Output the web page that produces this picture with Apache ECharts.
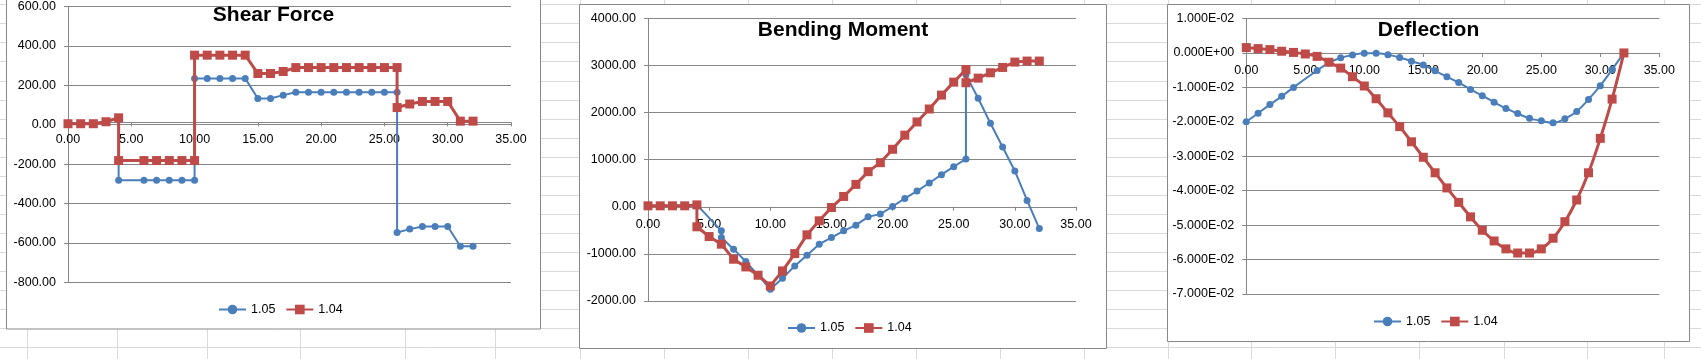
<!DOCTYPE html>
<html><head><meta charset="utf-8">
<script src="https://cdn.jsdelivr.net/npm/echarts@6/dist/echarts.min.js"></script>
<style>html,body{margin:0;padding:0;background:#fff;overflow:hidden}#c{width:1701px;height:359px}</style>
</head><body><div id="c"></div>
<script>
// ---------- data ----------
const seriesNames = ['1.05', '1.04'];
const chartTitles = ['Shear Force', 'Bending Moment', 'Deflection'];

// Shear Force
const sfX105 = [0,1,2,3,4,4,6,7,8,9,10,10,11,12,13,14,15,16,17,18,19,20,21,22,23,24,25,26,26,27,28,29,30,31,32];
const sfY105 = [5,5,5,15,35,-282,-282,-282,-282,-282,-282,235,235,235,235,235,133,133,150,165,165,165,165,165,165,165,165,165,-547,-530,-517,-517,-517,-617,-617];
const sfX104 = [0,1,2,3,4,4,6,7,8,9,10,10,11,12,13,14,15,16,17,18,19,20,21,22,23,24,25,26,26,27,28,29,30,31,32];
const sfY104 = [5,5,5,15,35,-182,-182,-182,-182,-182,-182,353,353,353,353,353,260,260,270,290,290,290,290,290,290,290,290,290,87,105,118,118,118,18,18];

// Bending Moment
const bmX105 = [0,1,2,3,4,6,6,7,8,9,10,11,12,13,14,15,16,17,18,19,20,21,22,23,24,25,26,26,27,28,29,30,31,32];
const bmY105 = [20,20,20,20,40,-511,-653,-900,-1163,-1450,-1750,-1517,-1255,-1028,-794,-653,-511,-390,-213,-156,6,177,333,504,681,851,1014,2800,2304,1772,1270,760,134,-462];
const bmX104 = [0,1,2,3,4,4,5,6,7,8,9,10,11,12,13,14,15,16,17,18,19,20,21,22,23,24,25,26,26,27,28,29,30,31,32];
const bmY104 = [20,20,20,20,40,-425,-632,-794,-1113,-1277,-1453,-1680,-1362,-994,-596,-298,-15,219,475,745,936,1220,1520,1800,2075,2370,2645,2912,2632,2730,2844,2957,3071,3092,3092];

// Deflection
const dfX105 = [0,1,2,3,4,6,7,8,9,10,11,12,13,14,15,16,17,18,19,20,21,22,23,24,25,26,27,28,29,30,31,32];
const dfY105 = [-0.0200,-0.0175,-0.0150,-0.0126,-0.0100,-0.0051,-0.0029,-0.0014,-0.0006,-0.0001,-0.0001,-0.0005,-0.0013,-0.0024,-0.0035,-0.0052,-0.0069,-0.0086,-0.0106,-0.0124,-0.0143,-0.0161,-0.0176,-0.0190,-0.0197,-0.0203,-0.0191,-0.0170,-0.0135,-0.0095,-0.0048,0];
const dfX104 = [0,1,2,3,4,5,6,7,8,9,10,11,12,13,14,15,16,17,18,19,20,21,22,23,24,25,26,27,28,29,30,31,32];
const dfY104 = [0.00155,0.00126,0.00097,0.0005,0.00015,-0.0003,-0.0010,-0.0027,-0.0044,-0.0069,-0.0096,-0.0133,-0.0174,-0.0214,-0.0258,-0.0303,-0.0348,-0.0392,-0.0434,-0.0476,-0.0515,-0.0546,-0.0569,-0.0581,-0.0581,-0.0569,-0.0538,-0.0490,-0.0427,-0.0348,-0.0248,-0.0134,0];

// axis ranges
const xRange = [0, 35, 5];
const sfRange = [-800, 600, 200];
const bmRange = [-2000, 4000, 1000];
const dfRange = [-0.07, 0.01, 0.01];

// ---------- styling ----------
const BLUE = '#4A7EBB', RED = '#BE4B48', AX = '#878787', CELL = '#dadada';
const FONT = '"Liberation Sans", Arial, sans-serif';
const zip = (xs, ys) => xs.map((x, i) => [x, ys[i]]);
const fix2 = v => v.toFixed(2);
const sci = v => {
  if (Math.abs(v) < 1e-12) return '0.000E+00';
  const s = v.toExponential(3).split('e');
  const e = parseInt(s[1], 10);
  return s[0] + 'E' + (e < 0 ? '-' : '+') + String(Math.abs(e)).padStart(2, '0');
};

const grids = [
  {left: 68, top: 2.3, width: 443, height: 280},
  {left: 648, top: 18.3, width: 428, height: 282.7},
  {left: 1246.3, top: 18.5, width: 413, height: 275.5}
];
const yRanges = [sfRange, bmRange, dfRange];

function mkX(gi) {
  const r = yRanges[gi], g = grids[gi];
  // place the x axis on the y = 0 line of its grid
  const off = -g.height * (0 - r[0]) / (r[1] - r[0]);
  return {gridIndex: gi, type: 'value', min: xRange[0], max: xRange[1], interval: xRange[2],
    position: 'bottom', offset: off,
    axisLine: {show: true, onZero: false, lineStyle: {color: AX, width: 1}},
    axisTick: {show: true, length: 4, lineStyle: {color: AX}},
    axisLabel: {margin: 11, color: '#000', fontSize: 12.5, fontFamily: FONT, formatter: fix2,
      showMinLabel: true, showMaxLabel: true, hideOverlap: false},
    splitLine: {show: false}};
}
function mkY(gi, r, fmt) {
  return {gridIndex: gi, type: 'value', min: r[0], max: r[1], interval: r[2],
    axisLine: {show: true, onZero: false, lineStyle: {color: AX, width: 1}},
    axisTick: {show: true, length: 4, lineStyle: {color: AX}},
    axisLabel: {margin: 12, color: '#000', fontSize: 12.5, fontFamily: FONT, formatter: fmt,
      showMinLabel: true, showMaxLabel: true},
    splitLine: {show: true, lineStyle: {color: AX, width: 1}}};
}
function mkSeries(gi, name, data, smooth) {
  const blue = name === seriesNames[0];
  return {type: 'line', name, xAxisIndex: gi, yAxisIndex: gi, data,
    smooth: smooth ? 0.4 : false,
    symbol: blue ? 'circle' : 'rect', symbolSize: blue ? 7 : 9,
    itemStyle: {color: blue ? BLUE : RED, borderWidth: 0},
    lineStyle: {color: blue ? BLUE : RED, width: blue ? 2 : 3},
    z: blue ? 2 : 3, animation: false, silent: true};
}
function mkLegend(left, top) {
  return {data: seriesNames, left, top, padding: 0, itemWidth: 27, itemHeight: 12, itemGap: 10,
    orient: 'horizontal', selectedMode: false,
    textStyle: {fontSize: 12.5, color: '#000', fontFamily: FONT}};
}
function mkTitle(text, cx, top) {
  return {text, left: cx, top, textAlign: 'center', padding: 0,
    textStyle: {fontSize: 21, fontWeight: 'bold', color: '#000', fontFamily: FONT}};
}

// decorative spreadsheet cell lines and chart frames
const gfx = [];
for (let k = 0; k < 20; k++) {
  const y = Math.round(4.3 + 19.05 * k) + 0.5;
  gfx.push({type: 'line', z: -20, silent: true, shape: {x1: 0, y1: y, x2: 1701, y2: y}, style: {stroke: CELL, lineWidth: 1}});
}
[26.8,116.8,207,300,404.6,495.4,579.5,663.6,748,832,916,999.5,1083.5,1167.5,1251,1335,1419,1504,1587,1664].forEach(x => {
  const xx = Math.round(x) + 0.5;
  gfx.push({type: 'line', z: -20, silent: true, shape: {x1: xx, y1: 0, x2: xx, y2: 359}, style: {stroke: CELL, lineWidth: 1}});
});
[[6.5,-12,534,341],[579.5,4.5,527,344],[1167.5,4.5,522,337]].forEach(r => {
  gfx.push({type: 'rect', z: -10, silent: true, shape: {x: r[0], y: r[1], width: r[2], height: r[3]},
    style: {fill: '#fff', stroke: '#888', lineWidth: 1}});
});

const option = {
  animation: false,
  backgroundColor: '#fff',
  graphic: {elements: gfx},
  title: [mkTitle(chartTitles[0], 273.5, 4.5), mkTitle(chartTitles[1], 843, 20), mkTitle(chartTitles[2], 1428.5, 20)],
  legend: [mkLegend(218, 303), mkLegend(787, 321.5), mkLegend(1373, 315)],
  grid: grids,
  xAxis: [mkX(0), mkX(1), mkX(2)],
  yAxis: [mkY(0, sfRange, fix2), mkY(1, bmRange, fix2), mkY(2, dfRange, sci)],
  series: [
    mkSeries(0, seriesNames[0], zip(sfX105, sfY105), false),
    mkSeries(0, seriesNames[1], zip(sfX104, sfY104), false),
    mkSeries(1, seriesNames[0], zip(bmX105, bmY105), false),
    mkSeries(1, seriesNames[1], zip(bmX104, bmY104), false),
    mkSeries(2, seriesNames[0], zip(dfX105, dfY105), true),
    mkSeries(2, seriesNames[1], zip(dfX104, dfY104), true)
  ]
};
const chart = echarts.init(document.getElementById('c'), null, {renderer: 'canvas'});
chart.setOption(option);
</script></body></html>
